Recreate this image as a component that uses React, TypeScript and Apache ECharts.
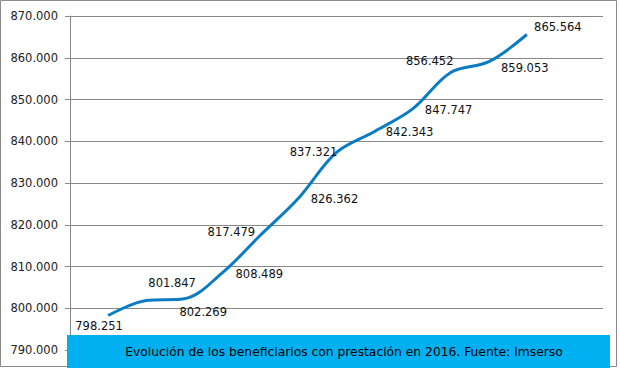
import React, { useEffect, useRef } from "react";
import * as echarts from "echarts";

const monthIndex = [1, 2, 3, 4, 5, 6, 7, 8, 9, 10, 11, 12];
const beneficiarios = [798251, 801847, 802269, 808489, 817479, 826362, 837321, 842343, 847747, 856452, 859053, 865564];
const labelOffsets: [number, number][] = [
  [-9, 10], [26, -18], [19, 13], [37, 1], [-29, -3], [36, 1],
  [-23, 0], [35, 1], [36, 1], [-21, -12], [36, 6], [31, -8],
];
const yTicks = [790000, 800000, 810000, 820000, 830000, 840000, 850000, 860000, 870000];
const caption = "Evolución de los beneficiarios con prestación en 2016. Fuente: Imserso";

const fmt = (v: number) => {
  const s = Math.round(v).toString();
  return s.replace(/\B(?=(\d{3})+(?!\d))/g, ".");
};

export default function App() {
  const ref = useRef<HTMLDivElement>(null);
  useEffect(() => {
    document.body.style.margin = "0";
    const chart = echarts.init(ref.current!, null, { renderer: "svg" });
    const font = "DejaVu Sans";
    chart.setOption({
      animation: false,
      backgroundColor: "#ffffff",
      grid: { left: 70, right: 17, top: 16, bottom: 18, containLabel: false },
      xAxis: {
        type: "value",
        min: 0,
        max: 14,
        show: false,
      },
      yAxis: {
        type: "value",
        min: yTicks[0],
        max: yTicks[yTicks.length - 1],
        interval: 10000,
        axisLine: { show: true, lineStyle: { color: "#878787", width: 1 } },
        axisTick: { show: true, length: 5, lineStyle: { color: "#878787" } },
        axisLabel: {
          margin: 12,
          color: "#222",
          fontFamily: font,
          fontSize: 11.5,
          formatter: (v: number) => fmt(v),
        },
        splitLine: { show: true, lineStyle: { color: "#878787", width: 1 } },
      },
      series: [
        {
          type: "line",
          smooth: 0.35,
          symbol: "circle",
          symbolSize: 1,
          itemStyle: { color: "rgba(0,0,0,0)", borderWidth: 0 },
          lineStyle: { color: "#0B7CC2", width: 3 },
          data: monthIndex.map((m, i) => ({
            value: [m, beneficiarios[i]],
            label: {
              show: true,
              position: "inside",
              offset: labelOffsets[i],
              align: "center",
              verticalAlign: "middle",
              color: "#111",
              fontFamily: font,
              fontSize: 11.5,
              formatter: () => fmt(beneficiarios[i]),
            },
          })),
          z: 3,
        },
      ],
      graphic: [
        {
          type: "rect",
          z: 100,
          silent: true,
          shape: { x: 0.5, y: 0.5, width: 616, height: 366 },
          style: { fill: "none", stroke: "#8a8a8a", lineWidth: 1 },
        },
        {
          type: "rect",
          z: 101,
          silent: true,
          shape: { x: 67, y: 335, width: 543, height: 33 },
          style: { fill: "#00B0F0" },
        },
        {
          type: "text",
          z: 102,
          silent: true,
          x: 344,
          y: 352,
          style: {
            text: caption,
            fill: "#000",
            font: `12.3px "${font}"`,
            align: "center",
            verticalAlign: "middle",
          },
        },
      ],
    });
    return () => chart.dispose();
  }, []);
  return <div ref={ref} style={{ width: 620, height: 368 }} />;
}
